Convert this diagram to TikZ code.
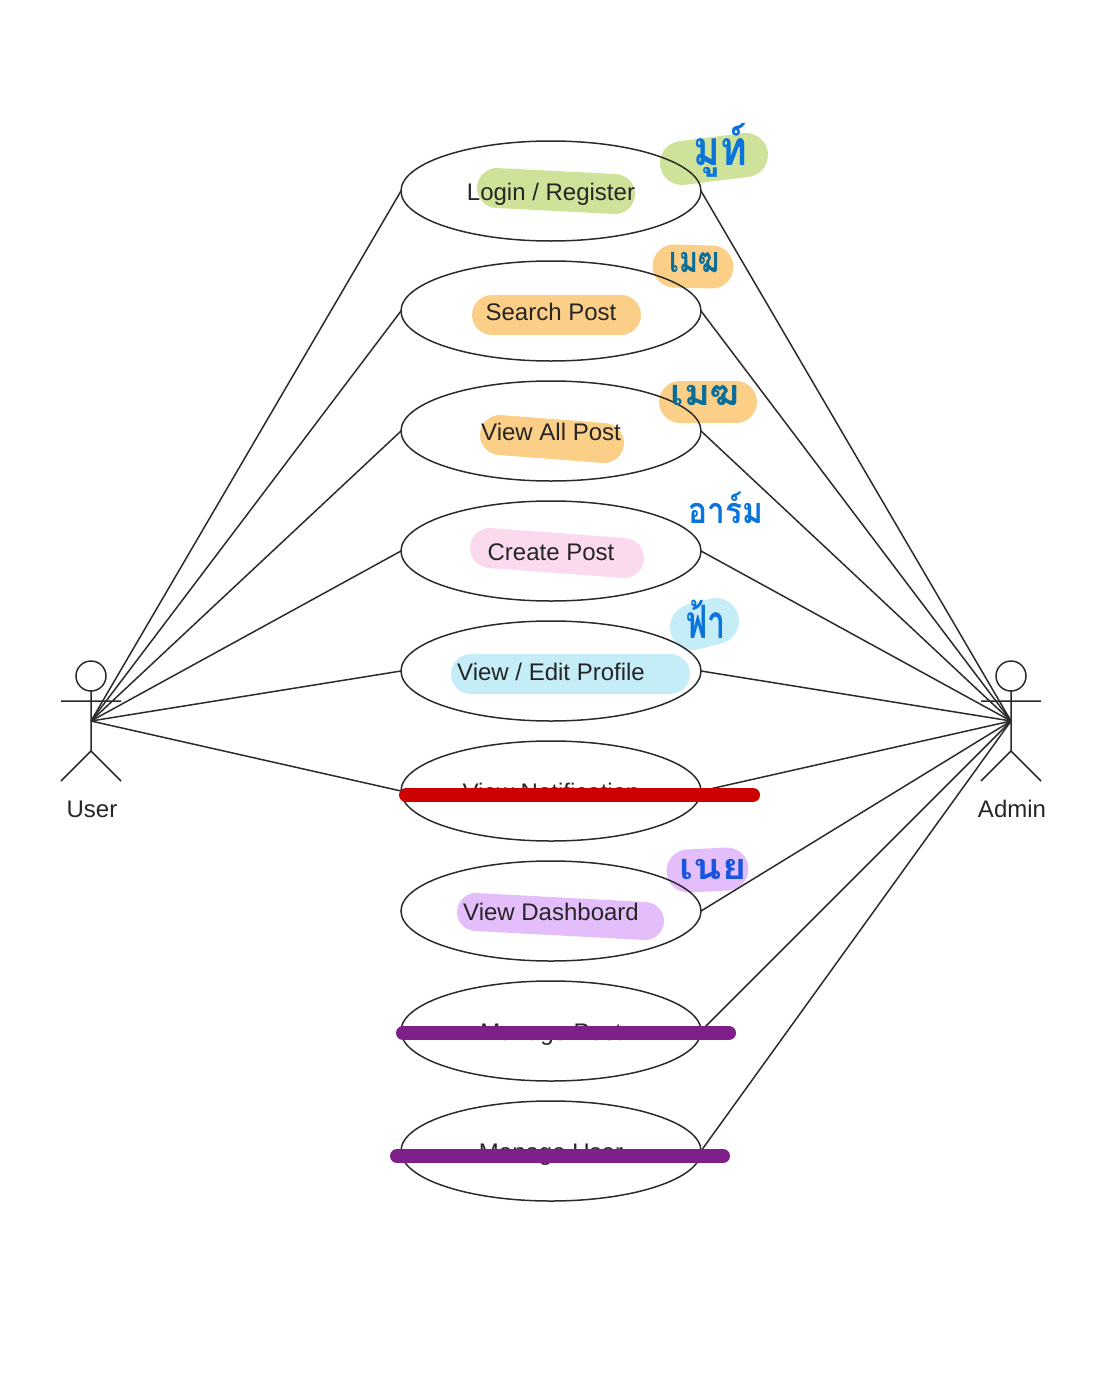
\documentclass[tikz,border=0pt]{standalone}
\usepackage{fontspec}
\setmainfont{Liberation Sans}
\newfontfamily\thaifont[Script=Thai]{Loma}
\usetikzlibrary{shapes.geometric}
\definecolor{hgreen}{HTML}{CFE29A}
\definecolor{horange}{HTML}{FBCF87}
\definecolor{hpink}{HTML}{FBD9EE}
\definecolor{hblue}{HTML}{C5EDF8}
\definecolor{hpurple}{HTML}{E3BEFA}
\definecolor{inkblue}{HTML}{0A74DA}
\definecolor{inkteal}{HTML}{0B6E99}
\definecolor{inkindigo}{HTML}{1A55E0}
\definecolor{lineink}{HTML}{2B2B2B}
\definecolor{strikered}{HTML}{CC0000}
\definecolor{strikepurple}{HTML}{7F1F8A}
\tikzset{
  usecase/.style={draw=lineink,line width=1.5pt,ellipse,minimum width=300pt,minimum height=100pt,inner sep=0pt,outer sep=0pt,text height=23.2pt,text depth=5.2pt,font=\fontsize{24}{28}\selectfont,text=black!85},
  link/.style={draw=lineink,line width=1.5pt},
  actorhead/.style={draw=lineink,line width=1.5pt,circle,minimum size=30pt,inner sep=0pt,outer sep=0pt},
  actorline/.style={draw=lineink,line width=1.5pt},
  hl/.style={line width=#1,line cap=round,line join=round},
  strike/.style={line width=14pt,line cap=round},
  hand/.style={font=\thaifont\bfseries\fontsize{#1}{#1}\selectfont,inner sep=0pt},
  actorlabel/.style={font=\fontsize{24}{28}\selectfont,text=black!85,inner sep=0pt}
}
\begin{document}
\begin{tikzpicture}[x=1pt,y=-1pt]
\useasboundingbox (0,0) rectangle (1100,1400);
% highlighter
\draw[hl=40pt,hgreen] (497,188) -- (615,194);
\draw[hl=44pt,hgreen] (682,163) -- (746,155);
\draw[hl=40pt,horange] (492,315) -- (621,315);
\draw[hl=43pt,horange] (674,266) -- (712,267);
\draw[hl=40pt,horange] (500,435) -- (604,443);
\draw[hl=42pt,horange] (680,402) -- (736,402);
\draw[hl=40pt,hpink] (490,548) -- (624,558);
\draw[hl=46pt,hblue] (693,627) -- (716,621);
\draw[hl=40pt,hblue] (471,674) -- (670,674);
\draw[hl=38pt,hpurple] (476,912) -- (645,921);
\draw[hl=43pt,hpurple] (688,871) -- (727,869);
% use cases
\node[usecase] (login) at (551,191) {Login / Register};
\node[usecase] (search) at (551,311) {Search Post};
\node[usecase] (viewall) at (551,431) {View All Post};
\node[usecase] (create) at (551,551) {Create Post};
\node[usecase] (profile) at (551,671) {View / Edit Profile};
\node[usecase] (notif) at (551,791) {View Notification};
\node[usecase] (dash) at (551,911) {View Dashboard};
\node[usecase] (mpost) at (551,1031) {Manage Post};
\node[usecase] (muser) at (551,1151) {Manage User};
% actors
\node[actorhead] (userhead) at (91,676) {};
\coordinate (userhub) at (91,721);
\coordinate (userhip) at (91,751);
\coordinate (userl) at (61,701);
\coordinate (userr) at (121,701);
\coordinate (userfl) at (61,781);
\coordinate (userfr) at (121,781);
\draw[actorline] (userhead.south) -- (userhip) (userl) -- (userr) (userfl) -- (userhip) -- (userfr);
\node[actorlabel] (userlabel) at (92,809) {User};
\node[actorhead] (adminhead) at (1011,676) {};
\coordinate (adminhub) at (1011,721);
\coordinate (adminhip) at (1011,751);
\coordinate (adminl) at (981,701);
\coordinate (adminr) at (1041,701);
\coordinate (adminfl) at (981,781);
\coordinate (adminfr) at (1041,781);
\draw[actorline] (adminhead.south) -- (adminhip) (adminl) -- (adminr) (adminfl) -- (adminhip) -- (adminfr);
\node[actorlabel] (adminlabel) at (1012,809) {Admin};
% connectors
\foreach \uc in {login,search,viewall,create,profile,notif}
  \draw[link] (userhub) -- (\uc.west);
\foreach \uc in {login,search,viewall,create,profile,notif,dash,mpost,muser}
  \draw[link] (adminhub) -- (\uc.east);
% handwriting
\node[hand=48,text=inkblue,xscale=.85] (hw1) at (720,150) {มูท์};
\node[hand=36,text=inkteal,xscale=.8] (hw2) at (695,263) {เมฆ};
\node[hand=36,text=inkteal,xscale=1.1] (hw3) at (705,396) {เมฆ};
\node[hand=36,text=inkblue,xscale=.88] (hw4) at (726,508) {อาร์ม};
\node[hand=46,text=inkblue,xscale=.7] (hw5) at (706,619) {ฟ้า};
\node[hand=36,text=inkindigo,xscale=1.15] (hw6) at (713,869) {เนย};
% strike-outs
\draw[strike,strikered] (406,795) -- (753,795);
\draw[strike,strikepurple] (403,1033) -- (729,1033);
\draw[strike,strikepurple] (397,1156) -- (723,1156);
\end{tikzpicture}
\end{document}
